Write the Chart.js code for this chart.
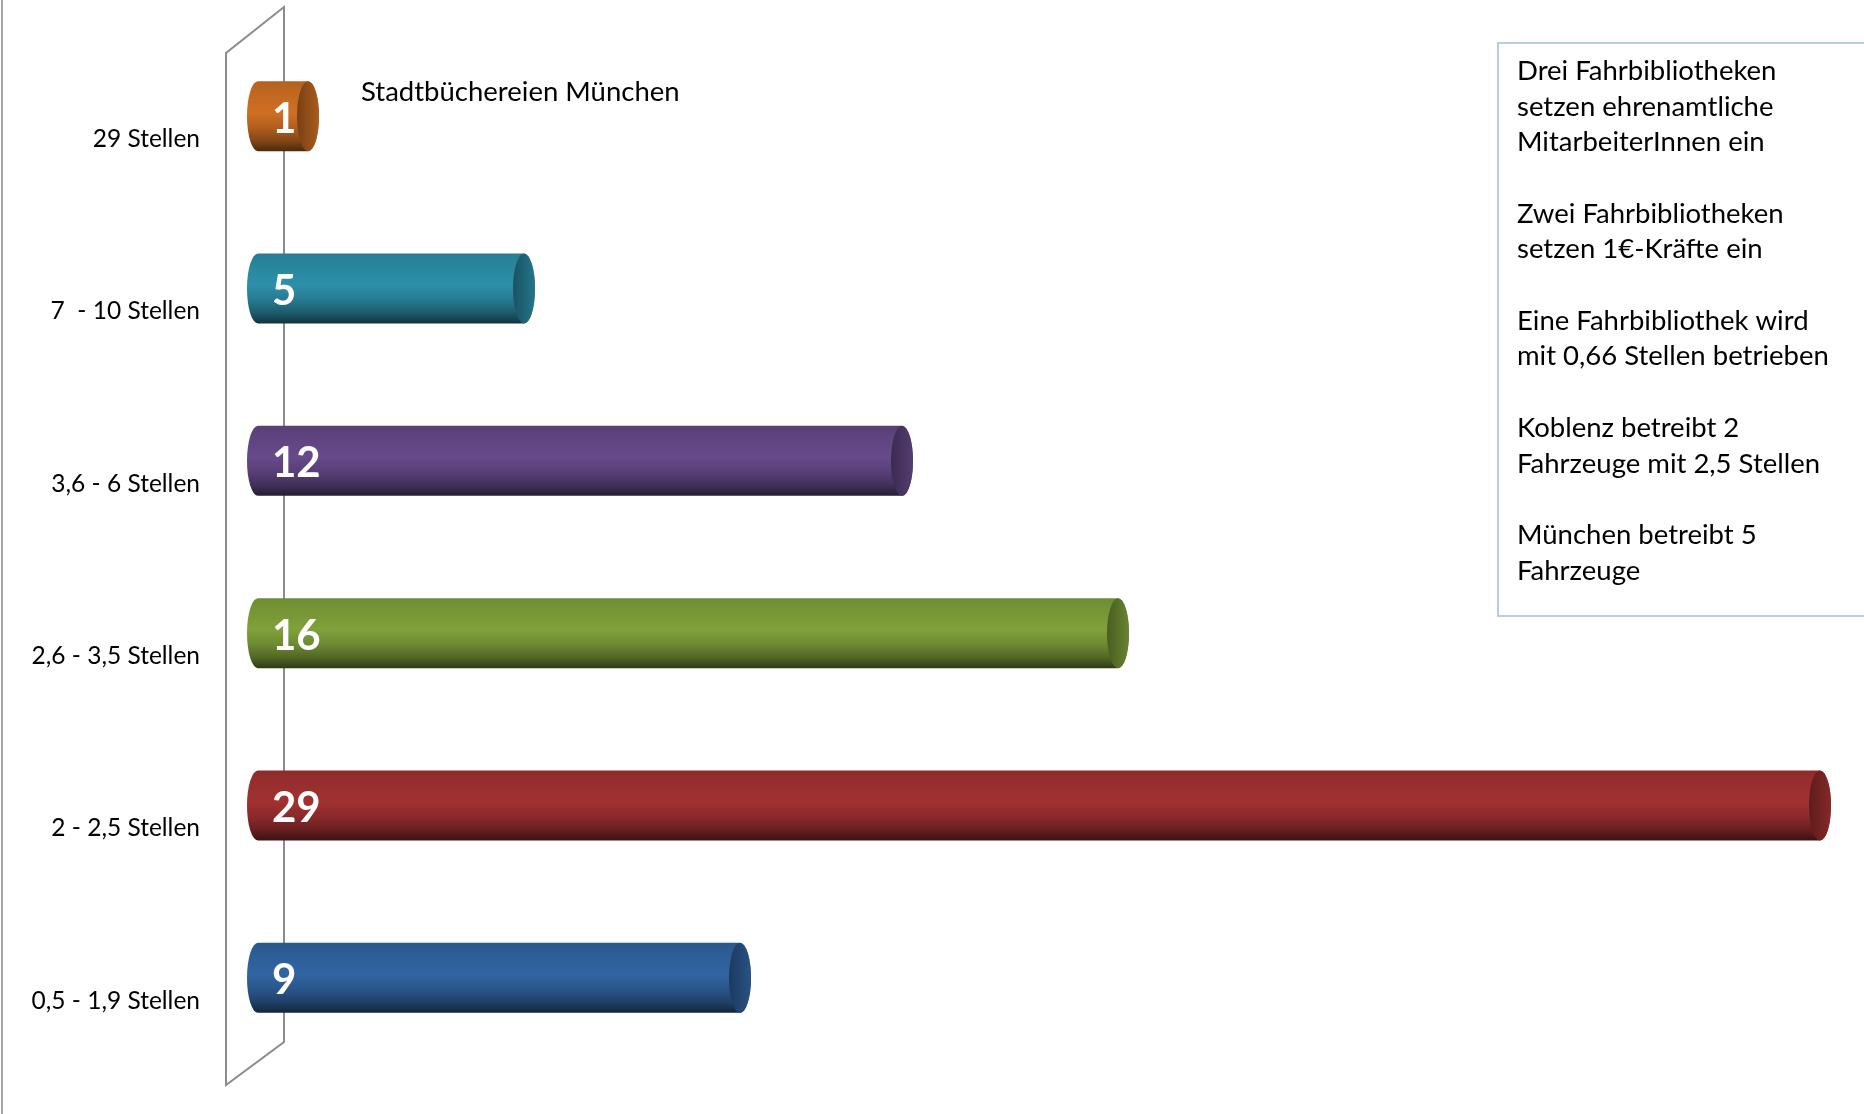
<!DOCTYPE html>
<html>
<head>
<meta charset="utf-8">
<script src="https://cdn.jsdelivr.net/npm/chart.js@4/dist/chart.umd.min.js"></script>
<style>
  html,body{margin:0;padding:0;background:#fff;}
  #wrap{width:1864px;height:1114px;position:relative;}
</style>
</head>
<body>
<div id="wrap"><canvas id="chart"></canvas></div>
<script>
// Fahrbibliotheken nach Stellen
const categories = ["29 Stellen", "7  - 10 Stellen", "3,6 - 6 Stellen", "2,6 - 3,5 Stellen", "2 - 2,5 Stellen", "0,5 - 1,9 Stellen"];
const counts = [1, 5, 12, 16, 29, 9];
const barColors = ["#c86b22", "#2a8aa3", "#634785", "#7a9b38", "#9c2f2f", "#2f619c"];
const barNote = "Stadtbüchereien München";
const noteLines = [
  "Drei Fahrbibliotheken", "setzen ehrenamtliche", "MitarbeiterInnen ein", "",
  "Zwei Fahrbibliotheken", "setzen 1€-Kräfte ein", "",
  "Eine Fahrbibliothek wird", "mit 0,66 Stellen betrieben", "",
  "Koblenz betreibt 2", "Fahrzeuge mit 2,5 Stellen", "",
  "München betreibt 5", "Fahrzeuge"
];

function shade(hex, f){
  const n = parseInt(hex.slice(1),16);
  const c = [(n>>16)&255,(n>>8)&255,n&255].map(v=>Math.max(0,Math.min(255,Math.round(v*f))));
  return `rgb(${c[0]},${c[1]},${c[2]})`;
}

// back wall + outer line, drawn under the bars
const wallPlugin = {
  id: "wall",
  beforeDatasetsDraw(chart){
    const {ctx, chartArea:a} = chart;
    ctx.save();
    ctx.strokeStyle = "#a6a6a6"; ctx.lineWidth = 2;
    ctx.beginPath(); ctx.moveTo(2,0); ctx.lineTo(2,chart.height); ctx.stroke();
    ctx.strokeStyle = "#8c8c8c";
    ctx.beginPath();
    ctx.moveTo(a.left+19, a.top-23);
    ctx.lineTo(a.left-39, a.top+23);
    ctx.lineTo(a.left-39, a.bottom+21);
    ctx.lineTo(a.left+19, a.bottom-22);
    ctx.closePath();
    ctx.stroke();
    ctx.restore();
  }
};

// cylinders, value labels, side notes
const cylPlugin = {
  id: "cyl",
  afterDatasetsDraw(chart){
    const {ctx} = chart;
    const meta = chart.getDatasetMeta(0);
    ctx.save();
    meta.data.forEach((el,i)=>{
      const col = barColors[i];
      const h = el.height, ry = h/2, rx = 11;
      const top = el.y-ry, bot = el.y+ry;
      const Lx = el.base-7, Rx = el.x-rx;
      const g = ctx.createLinearGradient(0,top,0,bot);
      g.addColorStop(0, shade(col,0.9));
      g.addColorStop(0.12, shade(col,0.95));
      g.addColorStop(0.45, shade(col,1.04));
      g.addColorStop(0.65, shade(col,0.9));
      g.addColorStop(0.85, shade(col,0.66));
      g.addColorStop(1, shade(col,0.38));
      ctx.beginPath();
      ctx.moveTo(Lx,top);
      ctx.lineTo(Rx,top);
      ctx.ellipse(Rx,el.y,rx,ry,0,-Math.PI/2,Math.PI/2,false);
      ctx.lineTo(Lx,bot);
      ctx.ellipse(Lx,el.y,rx,ry,0,Math.PI/2,Math.PI*1.5,false);
      ctx.closePath();
      ctx.fillStyle = g; ctx.fill();
      // end cap
      const cg = ctx.createLinearGradient(Rx-rx,0,Rx+rx,0);
      cg.addColorStop(0, shade(col,0.6));
      cg.addColorStop(1, shade(col,0.85));
      ctx.beginPath();
      ctx.ellipse(Rx,el.y,rx,ry,0,0,Math.PI*2);
      ctx.fillStyle = cg; ctx.fill();
      // value
      ctx.fillStyle = "#ffffff";
      ctx.font = "bold 42px Lato, 'Open Sans', sans-serif";
      ctx.textAlign = "left"; ctx.textBaseline = "middle";
      ctx.fillText(String(counts[i]), el.base+7, el.y+3);
      if(i===0){
        ctx.fillStyle = "#000";
        ctx.font = "27.5px Lato, 'Open Sans', sans-serif";
        ctx.fillText(barNote, el.x+42, el.y-24);
      }
    });
    // note box
    ctx.strokeStyle = "#b9cbe8"; ctx.lineWidth = 2;
    ctx.strokeRect(1498,43,420,573);
    ctx.fillStyle = "#000";
    ctx.font = "27.5px Lato, 'Open Sans', sans-serif";
    ctx.textAlign = "left"; ctx.textBaseline = "middle";
    noteLines.forEach((t,k)=>{ if(t) ctx.fillText(t,1517,71+35.7*k); });
    ctx.restore();
  }
};

new Chart(document.getElementById("chart"),{
  type:"bar",
  data:{labels:categories,datasets:[{data:counts,backgroundColor:"rgba(0,0,0,0)",barThickness:70}]},
  options:{
    indexAxis:"y",
    responsive:true, maintainAspectRatio:false, animation:false,
    layout:{padding:{top:30,bottom:50,left:0,right:6}},
    plugins:{legend:{display:false},tooltip:{enabled:false}},
    scales:{
      x:{display:false,min:0,max:29.5},
      y:{
        grid:{display:false,drawTicks:true,tickLength:65}, border:{display:false},
        ticks:{color:"#000",font:{family:"Lato, 'Open Sans', sans-serif",size:24.5},padding:0,labelOffset:23},
        afterFit:s=>{s.width=265;}
      }
    }
  },
  plugins:[wallPlugin,cylPlugin]
});
</script>
</body>
</html>
